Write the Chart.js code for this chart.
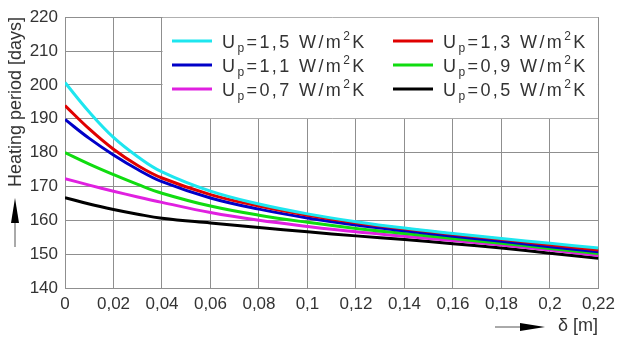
<!DOCTYPE html>
<html>
<head>
<meta charset="utf-8">
<script src="https://cdn.jsdelivr.net/npm/chart.js@4"></script>
<style>
  html, body { margin: 0; padding: 0; background: #fff; }
  #wrap { width: 621px; height: 339px; }
</style>
</head>
<body>
<div id="wrap"><canvas id="chartCanvas" width="621" height="339"></canvas></div>
<script>
// thickness δ [m]
const deltas = [0, 0.01, 0.02, 0.03, 0.04, 0.06, 0.08, 0.1, 0.12, 0.14, 0.16, 0.18, 0.2, 0.22]

// heating period [days] per U_p
const up15 = [200.7, 192.0, 184.5, 178.8, 174.3, 168.6, 164.8, 161.9, 159.6, 157.7, 156.1, 154.6, 153.2, 151.8]
const up13 = [193.9, 187.0, 181.0, 176.2, 172.5, 167.6, 164.2, 161.5, 159.3, 157.5, 155.9, 154.4, 152.8, 151.2]
const up11 = [189.8, 184.2, 179.3, 175.0, 171.4, 166.6, 163.3, 160.7, 158.6, 156.9, 155.3, 153.8, 152.2, 150.7]
const up09 = [180.0, 176.6, 173.5, 170.6, 168.0, 164.2, 161.5, 159.4, 157.6, 156.1, 154.6, 153.2, 151.7, 150.2]
const up07 = [172.3, 170.4, 168.6, 166.9, 165.3, 162.3, 160.0, 158.2, 156.6, 155.3, 154.0, 152.7, 151.2, 149.6]
const up05 = [166.7, 164.8, 163.2, 161.8, 160.6, 159.2, 157.9, 156.6, 155.4, 154.3, 153.1, 151.8, 150.3, 148.8]

const upLabels = ["1,5", "1,3", "1,1", "0,9", "0,7", "0,5"]
const series = [up15, up13, up11, up09, up07, up05]
const colors = ["#1ee6ef", "#e00000", "#0000c8", "#10dc10", "#e020e0", "#000000"]

const gridColor = "#8f8f8f"
const textColor = "#333333"
const fontFam = "'Liberation Sans', Arial, sans-serif"

const fmt = v => Number(v.toFixed(2)).toString().replace(".", ",")

const datasets = series.map((s, i) => ({
    label: "Up=" + upLabels[i] + " W/m2K",
    data: s.map((y, j) => ({x: deltas[j], y: y})),
    borderColor: colors[i],
    borderWidth: 3,
    pointRadius: 0,
    tension: 0.4,
    fill: false
}))

// white legend box + custom legend text with sub/superscripts
const legendBox = {
    id: "legendBox",
    beforeDatasetsDraw(chart){
        const {ctx, scales: {x, y}} = chart
        const l = x.getPixelForValue(0.04), r = x.getPixelForValue(0.22)
        const t = y.getPixelForValue(220), b = y.getPixelForValue(190)
        ctx.save()
        ctx.fillStyle = "#fff"
        ctx.fillRect(l + 0.5, t + 0.5, r - l - 1, b - t - 1)
        ctx.restore()
    },
    afterDatasetsDraw(chart){
        const {ctx} = chart
        ctx.save()
        upLabels.forEach((u, i) => {
            const col = i % 2, row = Math.floor(i / 2)
            const lx = col === 0 ? 172 : 393
            const ly = 41 + row * 24
            ctx.strokeStyle = colors[i]
            ctx.lineWidth = 3
            ctx.beginPath()
            ctx.moveTo(lx, ly)
            ctx.lineTo(lx + 40, ly)
            ctx.stroke()

            let tx = lx + 50
            const base = ly + 7
            ctx.fillStyle = textColor
            ctx.textBaseline = "alphabetic"
            ctx.textAlign = "left"
            ctx.letterSpacing = "2.4px"
            ctx.font = "18px " + fontFam
            ctx.fillText("U", tx, base)
            tx += ctx.measureText("U").width
            ctx.font = "12px " + fontFam
            ctx.fillText("p", tx, base + 4)
            tx += ctx.measureText("p").width
            ctx.font = "18px " + fontFam
            const mid = "=" + u + " W/m"
            ctx.fillText(mid, tx, base)
            tx += ctx.measureText(mid).width
            ctx.font = "12px " + fontFam
            ctx.fillText("2", tx, base - 8)
            tx += ctx.measureText("2").width
            ctx.font = "18px " + fontFam
            ctx.fillText("K", tx, base)
        })
        ctx.restore()
    }
}

// axis titles with arrows
const axisTitles = {
    id: "axisTitles",
    afterDraw(chart){
        const {ctx} = chart
        ctx.save()
        ctx.fillStyle = textColor
        ctx.strokeStyle = "#555"
        ctx.font = "18px " + fontFam
        // y title
        ctx.save()
        ctx.translate(16, 102)
        ctx.rotate(-Math.PI / 2)
        ctx.textAlign = "center"
        ctx.textBaseline = "middle"
        ctx.fillText("Heating period [days]", 0, 0)
        ctx.restore()
        // y arrow
        ctx.lineWidth = 1
        ctx.beginPath()
        ctx.moveTo(15, 247)
        ctx.lineTo(15, 222)
        ctx.stroke()
        ctx.fillStyle = "#000"
        ctx.beginPath()
        ctx.moveTo(15, 198)
        ctx.lineTo(19, 223)
        ctx.lineTo(11, 223)
        ctx.closePath()
        ctx.fill()
        // x arrow
        ctx.beginPath()
        ctx.moveTo(495, 327)
        ctx.lineTo(522, 327)
        ctx.stroke()
        ctx.beginPath()
        ctx.moveTo(545, 327)
        ctx.lineTo(520, 323)
        ctx.lineTo(520, 331)
        ctx.closePath()
        ctx.fill()
        ctx.fillStyle = textColor
        ctx.textAlign = "left"
        ctx.textBaseline = "middle"
        ctx.fillText("δ [m]", 558, 326)
        ctx.restore()
    }
}

new Chart(document.querySelector("#chartCanvas"), {
    type: "line",
    data: {datasets: datasets},
    options: {
        responsive: false,
        animation: false,
        events: [],
        layout: {padding: {left: 0, right: 17, top: 14, bottom: 0}},
        plugins: {legend: {display: false}, tooltip: {enabled: false}},
        scales: {
            x: {
                type: "linear",
                min: 0,
                max: 0.22,
                afterFit: s => { s.height = 51 },
                grid: {color: gridColor, lineWidth: 1, drawTicks: false},
                border: {color: gridColor},
                ticks: {
                    stepSize: 0.02,
                    padding: 6,
                    color: textColor,
                    font: {size: 17, family: fontFam},
                    maxRotation: 0,
                    callback: v => fmt(v)
                }
            },
            y: {
                min: 140,
                max: 220,
                afterFit: s => { s.width = 65 },
                grid: {color: gridColor, lineWidth: 1, drawTicks: false},
                border: {color: gridColor},
                ticks: {
                    stepSize: 10,
                    padding: 7,
                    color: textColor,
                    font: {size: 17, family: fontFam}
                }
            }
        }
    },
    plugins: [legendBox, axisTitles]
})
</script>
</body>
</html>
